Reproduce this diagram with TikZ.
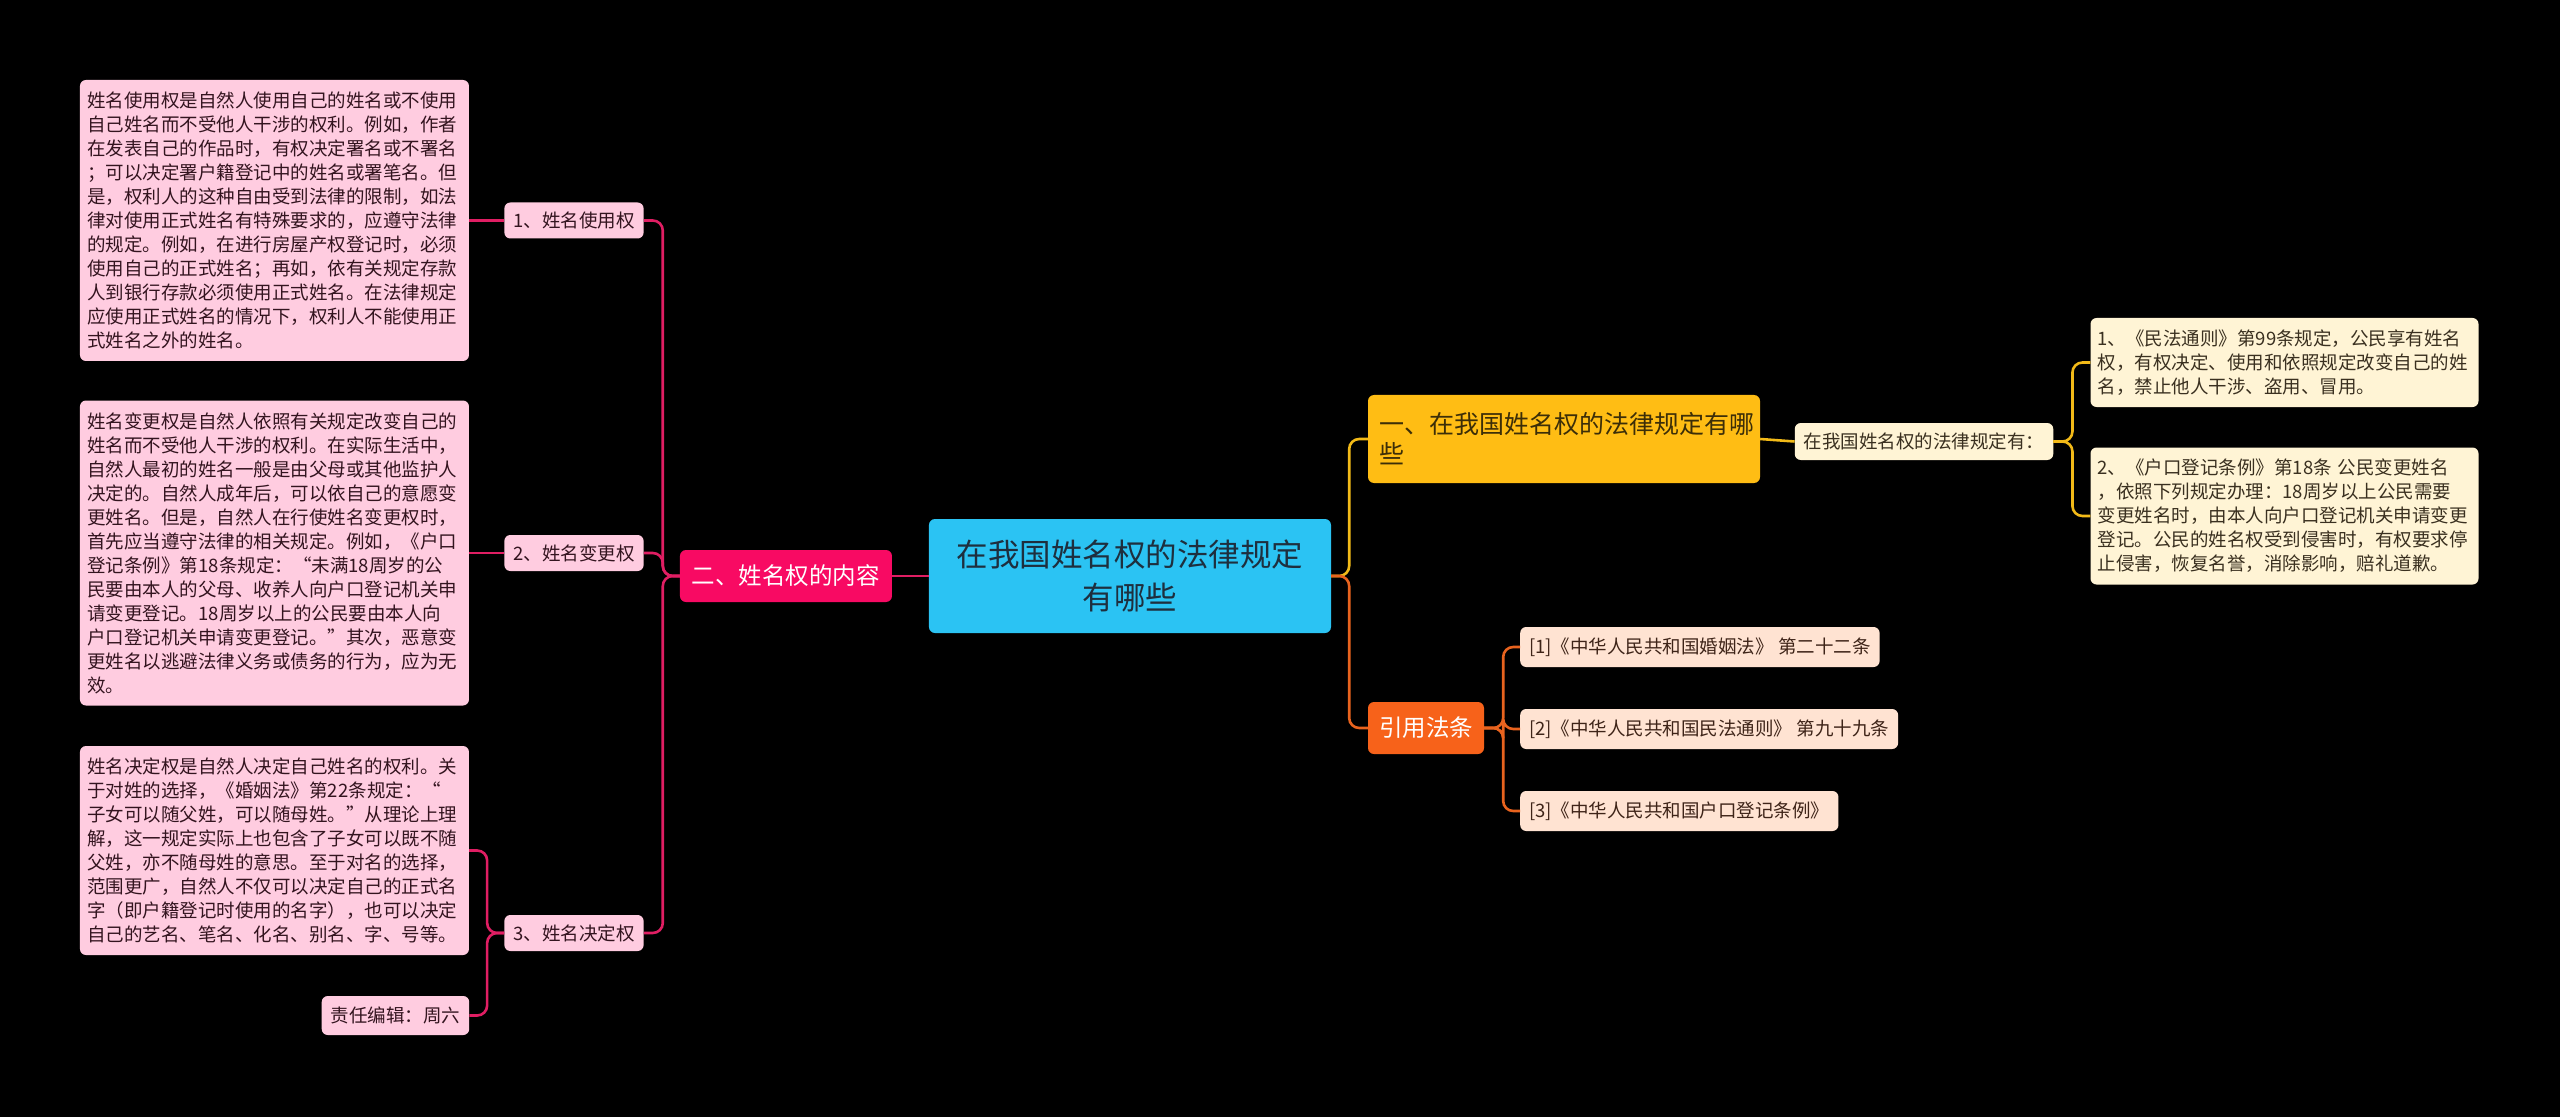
\documentclass[tikz,border=0pt]{standalone}
\usepackage{fontspec}
\setmainfont{Noto Sans CJK SC}
\usepackage{xcolor}
\usepackage{tikz}
\definecolor{rootblue}{HTML}{2BC3F3}
\definecolor{roottext}{HTML}{1E2F3E}
\definecolor{contentpink}{HTML}{F80A63}
\definecolor{leafpink}{HTML}{FFCCE0}
\definecolor{leaftext}{HTML}{33141F}
\definecolor{linepink}{HTML}{E01E63}
\definecolor{lawgold}{HTML}{FFBD14}
\definecolor{lawtext}{HTML}{3C2E08}
\definecolor{cream}{HTML}{FFF4D5}
\definecolor{creamtext}{HTML}{3A3020}
\definecolor{linegold}{HTML}{F2BA18}
\definecolor{citeorange}{HTML}{F7621A}
\definecolor{peach}{HTML}{FFE3D2}
\definecolor{peachtext}{HTML}{3E2418}
\definecolor{lineorange}{HTML}{E8631E}

\begin{document}
\begin{tikzpicture}[
    node distance=250pt,
    every node/.style={rectangle, rounded corners=6pt, align=left, inner sep=0pt},
    rootbox/.style={fill=rootblue, text=roottext, align=center,
                    font=\fontsize{31.5pt}{43pt}\selectfont,
                    minimum width=402pt, minimum height=114pt},
    topicbox/.style={fill=contentpink, text=white, inner xsep=12pt,
                     font=\fontsize{23.5pt}{30pt}\selectfont, minimum height=52pt},
    subbox/.style={fill=leafpink, text=leaftext, inner xsep=9pt,
                   font=\fontsize{18.5pt}{24pt}\selectfont, minimum height=36pt},
    leafbox/.style={fill=leafpink, text=leaftext, text width=374pt, inner xsep=7.5pt,
                    font=\fontsize{18.5pt}{24pt}\selectfont},
    lawbox/.style={fill=lawgold, text=lawtext, text width=370pt, inner xsep=11pt,
                   font=\fontsize{25pt}{30pt}\selectfont, minimum height=88pt},
    creambox/.style={fill=cream, text=creamtext, inner xsep=9pt,
                     font=\fontsize{18.5pt}{24pt}\selectfont, minimum height=37pt},
    citebox/.style={fill=citeorange, text=white, inner xsep=11pt,
                    font=\fontsize{23.5pt}{30pt}\selectfont, minimum height=52pt},
    refbox/.style={fill=peach, text=peachtext, inner xsep=9pt,
                   font=\fontsize{18.5pt}{24pt}\selectfont, minimum height=40pt},
    pinkline/.style={draw=linepink, line width=2.6pt, rounded corners=10pt},
    goldline/.style={draw=linegold, line width=2.6pt, rounded corners=10pt},
    orangeline/.style={draw=lineorange, line width=2.6pt, rounded corners=10pt}
]
\fill[black, use as bounding box] (-1130pt,576pt) rectangle (1430pt,-541pt);

\node[rootbox] (root) {在我国姓名权的法律规定\\有哪些};

% left side
\node[topicbox] (content) [left of=root, xshift=-94pt] {二、姓名权的内容};
\node[subbox] (use) [left of=content, xshift=38pt, yshift=355.5pt] {1、姓名使用权};
\node[subbox] (change) [left of=content, xshift=38pt, yshift=23pt] {2、姓名变更权};
\node[subbox] (decide) [left of=content, xshift=38pt, yshift=-357pt] {3、姓名决定权};
\node[leafbox, minimum height=281pt] (usetext) [left of=use, xshift=-49.5pt]
  {姓名使用权是自然人使用自己的姓名或不使用\\
   自己姓名而不受他人干涉的权利。例如，作者\\
   在发表自己的作品时，有权决定署名或不署名\\
   ；可以决定署户籍登记中的姓名或署笔名。但\\
   是，权利人的这种自由受到法律的限制，如法\\
   律对使用正式姓名有特殊要求的，应遵守法律\\
   的规定。例如，在进行房屋产权登记时，必须\\
   使用自己的正式姓名；再如，依有关规定存款\\
   人到银行存款必须使用正式姓名。在法律规定\\
   应使用正式姓名的情况下，权利人不能使用正\\
   式姓名之外的姓名。};
\node[leafbox, minimum height=305pt] (changetext) [left of=change, xshift=-49.5pt]
  {姓名变更权是自然人依照有关规定改变自己的\\
   姓名而不受他人干涉的权利。在实际生活中，\\
   自然人最初的姓名一般是由父母或其他监护人\\
   决定的。自然人成年后，可以依自己的意愿变\\
   更姓名。但是，自然人在行使姓名变更权时，\\
   首先应当遵守法律的相关规定。例如，《户口\\
   登记条例》第18条规定：“未满18周岁的公\\
   民要由本人的父母、收养人向户口登记机关申\\
   请变更登记。18周岁以上的公民要由本人向\\
   户口登记机关申请变更登记。”其次，恶意变\\
   更姓名以逃避法律义务或债务的行为，应为无\\
   效。};
\node[leafbox, minimum height=209pt] (decidetext) [left of=decide, xshift=-49.5pt, yshift=82.5pt]
  {姓名决定权是自然人决定自己姓名的权利。关\\
   于对姓的选择，《婚姻法》第22条规定：“\\
   子女可以随父姓，可以随母姓。”从理论上理\\
   解，这一规定实际上也包含了子女可以既不随\\
   父姓，亦不随母姓的意思。至于对名的选择，\\
   范围更广，自然人不仅可以决定自己的正式名\\
   字（即户籍登记时使用的名字），也可以决定\\
   自己的艺名、笔名、化名、别名、字、号等。};
\node[subbox, minimum height=39pt] (editor) [left of=decide, xshift=71.5pt, yshift=-82.5pt] {责任编辑：周六};

% right side
\node[lawbox] (law) [right of=root, xshift=184pt, yshift=137pt] {一、在我国姓名权的法律规定有哪\\些};
\node[creambox] (lawintro) [right of=law, xshift=110pt, yshift=-2.5pt] {在我国姓名权的法律规定有：};
\node[creambox, text width=374pt, inner xsep=7pt, minimum height=89pt] (law1)
  [right of=lawintro, xshift=110.5pt, yshift=79pt]
  {1、《民法通则》第99条规定，公民享有姓名\\
   权，有权决定、使用和依照规定改变自己的姓\\
   名，禁止他人干涉、盗用、冒用。};
\node[creambox, text width=374pt, inner xsep=7pt, minimum height=137pt] (law2)
  [right of=lawintro, xshift=110.5pt, yshift=-74.5pt]
  {2、《户口登记条例》第18条 公民变更姓名\\
   ，依照下列规定办理：18周岁以上公民需要\\
   变更姓名时，由本人向户口登记机关申请变更\\
   登记。公民的姓名权受到侵害时，有权要求停\\
   止侵害，恢复名誉，消除影响，赔礼道歉。};
\node[citebox] (cite) [right of=root, xshift=46pt, yshift=-152pt] {引用法条};
\node[refbox] (ref1) [right of=cite, anchor=west, xshift=-156pt, yshift=81pt] {[1]《中华人民共和国婚姻法》 第二十二条};
\node[refbox] (ref2) [right of=cite, anchor=west, xshift=-156pt, yshift=-1pt] {[2]《中华人民共和国民法通则》 第九十九条};
\node[refbox] (ref3) [right of=cite, anchor=west, xshift=-156pt, yshift=-83pt] {[3]《中华人民共和国户口登记条例》};

% connectors
\draw[pinkline] (root.west) -- (content.east);
\draw[pinkline] (content.west) -- ++(-17pt,0) |- (use.east);
\draw[pinkline] (content.west) -- ++(-17pt,0) |- (change.east);
\draw[pinkline] (content.west) -- ++(-17pt,0) |- (decide.east);
\draw[pinkline] (use.west) -- (usetext.east);
\draw[pinkline] (change.west) -- (changetext.east);
\draw[pinkline] (decide.west) -- ++(-17pt,0) |- (decidetext.east);
\draw[pinkline] (decide.west) -- ++(-17pt,0) |- (editor.east);

\draw[goldline] (root.east) -- ++(18pt,0) |- (law.west);
\draw[orangeline] (root.east) -- ++(18pt,0) |- (cite.west);
\draw[goldline] (law.east) -- (lawintro.west);
\draw[goldline] (lawintro.east) -- ++(19pt,0) |- (law1.west);
\draw[goldline] (lawintro.east) -- ++(19pt,0) |- (law2.west);
\draw[orangeline] (cite.east) -- ++(19pt,0) |- (ref1.west);
\draw[orangeline] (cite.east) -- ++(19pt,0) |- (ref2.west);
\draw[orangeline] (cite.east) -- ++(19pt,0) |- (ref3.west);
\end{tikzpicture}
\end{document}
